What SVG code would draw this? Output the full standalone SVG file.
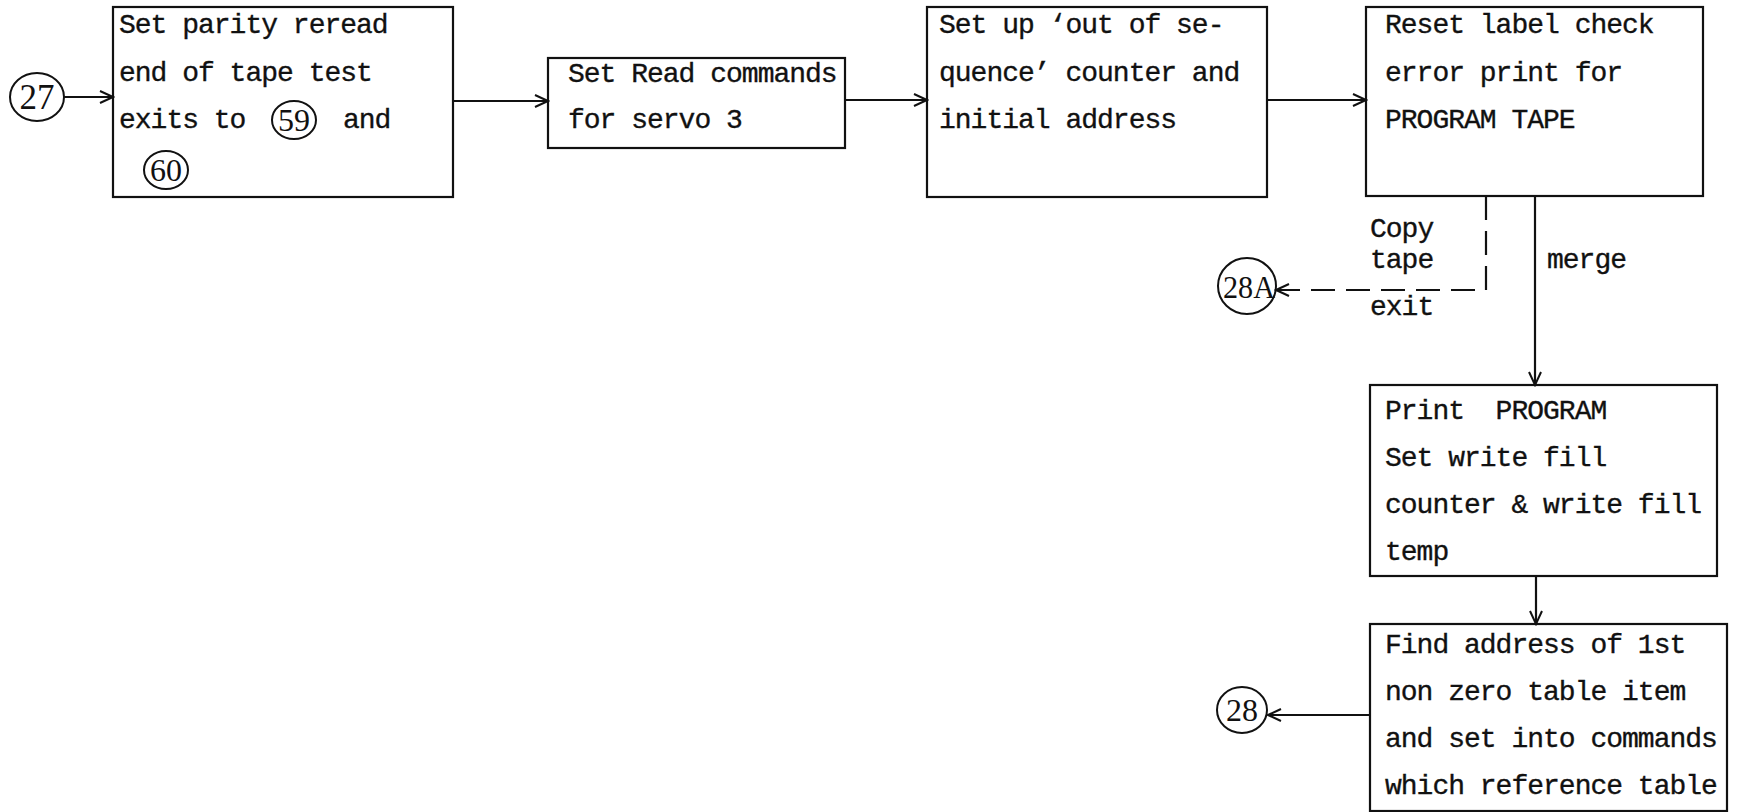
<svg xmlns="http://www.w3.org/2000/svg" width="1743" height="812" viewBox="0 0 1743 812">
<style>
.box{fill:none;stroke:#111;stroke-width:2.2}
.con{fill:none;stroke:#111;stroke-width:2.2}
.dash{stroke-dasharray:24 11}
.t{font-family:"Liberation Mono","DejaVu Sans Mono",monospace;font-size:28px;letter-spacing:-1px;fill:#111;stroke:#111;stroke-width:0.35}
.c{fill:none;stroke:#111;stroke-width:2}
.ct{font-family:"Liberation Serif","DejaVu Serif",serif;fill:#111;text-anchor:middle}
</style>
<defs>
<marker id="arr" markerWidth="16" markerHeight="14" refX="14" refY="7" orient="auto" markerUnits="userSpaceOnUse">
<path d="M1,1 L14,7 L1,13" fill="none" stroke="#111" stroke-width="2"/>
</marker>
</defs>
<rect width="1743" height="812" fill="#fff"/>
<g id="connectors">
<line class="con" x1="64" y1="97" x2="113" y2="97" marker-end="url(#arr)"/>
<line class="con" x1="453" y1="101" x2="548" y2="101" marker-end="url(#arr)"/>
<line class="con" x1="845" y1="100" x2="927" y2="100" marker-end="url(#arr)"/>
<line class="con" x1="1267" y1="100" x2="1366" y2="100" marker-end="url(#arr)"/>
<line class="con" x1="1535" y1="196" x2="1535" y2="385" marker-end="url(#arr)"/>
<path class="con dash" d="M1486,196 V290 H1276" marker-end="url(#arr)"/>
<line class="con" x1="1536" y1="576" x2="1536" y2="624" marker-end="url(#arr)"/>
<line class="con" x1="1370" y1="715" x2="1268" y2="715" marker-end="url(#arr)"/>
</g>
<g id="n27">
<ellipse class="c" cx="37" cy="97" rx="27" ry="24"/>
<text class="ct" x="37" y="109" font-size="35">27</text>
</g>
<g id="box1">
<rect class="box" x="113" y="7" width="340" height="190"/>
<text class="t" x="119" y="33">Set parity reread</text>
<text class="t" x="119" y="81">end of tape test</text>
<text class="t" x="119" y="128">exits to</text>
<ellipse class="c" cx="294" cy="120" rx="22" ry="19"/>
<text class="ct" x="294" y="131" font-size="32">59</text>
<text class="t" x="343" y="128">and</text>
<ellipse class="c" cx="166" cy="170" rx="22" ry="19"/>
<text class="ct" x="166" y="181" font-size="32">60</text>
</g>
<g id="box2">
<rect class="box" x="548" y="58" width="297" height="90"/>
<text class="t" x="568" y="82">Set Read commands</text>
<text class="t" x="568" y="128">for servo 3</text>
</g>
<g id="box3">
<rect class="box" x="927" y="7" width="340" height="190"/>
<text class="t" x="939" y="33">Set up ‘out of se-</text>
<text class="t" x="939" y="81">quence’ counter and</text>
<text class="t" x="939" y="128">initial address</text>
</g>
<g id="box4">
<rect class="box" x="1366" y="7" width="337" height="189"/>
<text class="t" x="1385" y="33">Reset label check</text>
<text class="t" x="1385" y="81">error print for</text>
<text class="t" x="1385" y="128">PROGRAM TAPE</text>
</g>
<g id="labels">
<text class="t" x="1370" y="237">Copy</text>
<text class="t" x="1370" y="268">tape</text>
<text class="t" x="1370" y="315">exit</text>
<text class="t" x="1547" y="268">merge</text>
</g>
<g id="n28A">
<ellipse class="c" cx="1247" cy="286" rx="29" ry="28"/>
<text class="ct" x="1249" y="298" font-size="32" textLength="52" lengthAdjust="spacingAndGlyphs">28A</text>
</g>
<g id="box5">
<rect class="box" x="1370" y="385" width="347" height="191"/>
<text class="t" x="1385" y="419" xml:space="preserve">Print  PROGRAM</text>
<text class="t" x="1385" y="466">Set write fill</text>
<text class="t" x="1385" y="513">counter &amp; write fill</text>
<text class="t" x="1385" y="560">temp</text>
</g>
<g id="box6">
<rect class="box" x="1370" y="624" width="357" height="187"/>
<text class="t" x="1385" y="653">Find address of 1st</text>
<text class="t" x="1385" y="700">non zero table item</text>
<text class="t" x="1385" y="747">and set into commands</text>
<text class="t" x="1385" y="794">which reference table</text>
</g>
<g id="n28">
<ellipse class="c" cx="1242" cy="710" rx="25" ry="23"/>
<text class="ct" x="1242" y="721" font-size="32">28</text>
</g>
</svg>
